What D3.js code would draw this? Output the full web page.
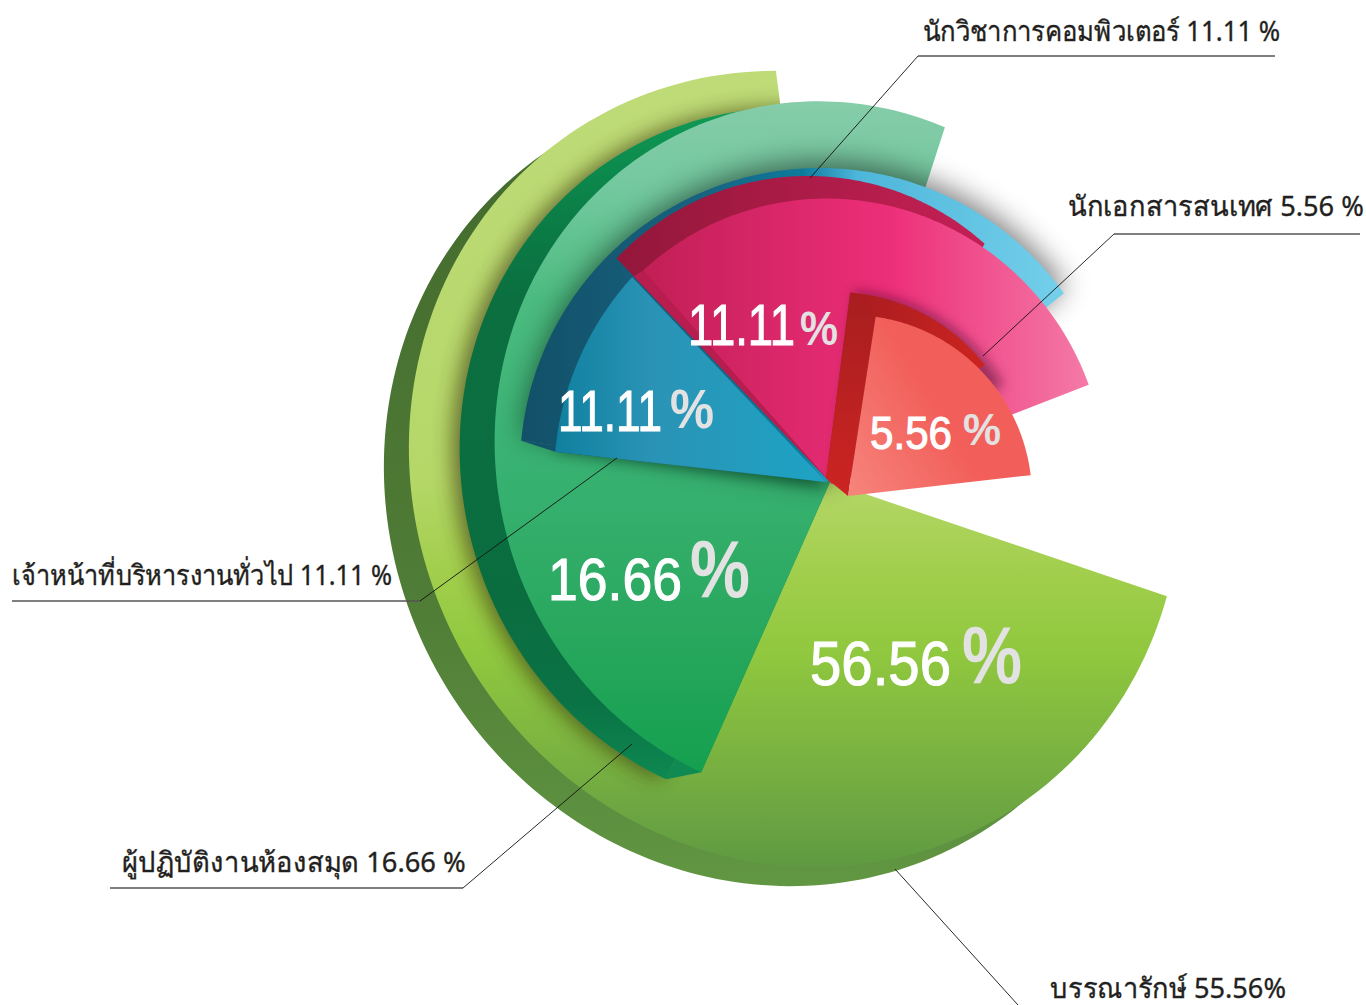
<!DOCTYPE html>
<html>
<head>
<meta charset="utf-8">
<script src="https://cdn.jsdelivr.net/npm/d3@7"></script>
<style>
  html, body { margin: 0; padding: 0; background: #fff; }
  svg { display: block; }
</style>
</head>
<body>
<div id="chart"></div>
<script>
// data
const categories = ["บรรณารักษ์", "ผู้ปฏิบัติงานห้องสมุด", "เจ้าหน้าที่บริหารงานทั่วไป", "นักวิชาการคอมพิวเตอร์", "นักเอกสารสนเทศ"];
const legendValues = [55.56, 16.66, 11.11, 11.11, 5.56];
const faceValues = [56.56, 16.66, 11.11, 11.11, 5.56];
// the slices are not drawn to scale in the original, these are the angles seen in it (0 = east, clockwise)
const startAngles = [18.9, 111.6, 185.2, 228, 278.1];
const endAngles = [267.25, 289.8, 222.3, 340.2, 353.1];

const W = 1366, H = 1005;
const rad = d3.scaleLinear().domain([0, 180]).range([0, Math.PI]);

const svg = d3.select("#chart").append("svg")
  .attr("width", W).attr("height", H).attr("viewBox", `0 0 ${W} ${H}`);
const defs = svg.append("defs");

function gradient(id, x1, y1, x2, y2, stops) {
  const g = defs.append("linearGradient").attr("id", id)
    .attr("gradientUnits", "userSpaceOnUse")
    .attr("x1", x1).attr("y1", y1).attr("x2", x2).attr("y2", y2);
  stops.forEach(s => g.append("stop").attr("offset", s[0]).attr("stop-color", s[1]));
  return `url(#${id})`;
}
function blur(id, sd) {
  defs.append("filter").attr("id", id)
    .attr("x", "-30%").attr("y", "-30%").attr("width", "160%").attr("height", "160%")
    .append("feGaussianBlur").attr("stdDeviation", sd);
  return `url(#${id})`;
}

// points on an ellipse, by polar angle around its centre
function arcPoints(e, a0, a1) {
  const n = 160;
  return d3.range(n + 1).map(i => {
    const a = rad(a0 + (a1 - a0) * i / n), t = a - rad(e.rot || 0);
    const r = 1 / Math.hypot(Math.cos(t) / e.rx, Math.sin(t) / e.ry);
    return [e.cx + r * Math.cos(a), e.cy + r * Math.sin(a)];
  });
}
const line = d3.line();
function wedge(e, a0, a1, apex) {
  return line([apex, ...arcPoints(e, a0, a1)]) + "Z";
}
function moved(e, dx, dy) {
  return Object.assign({}, e, { cx: e.cx + dx, cy: e.cy + dy });
}
function draw(d, fill, parent) {
  return (parent || svg).append("path").attr("d", d).attr("fill", fill);
}
const soft10 = blur("soft10", 10), soft6 = blur("soft6", 6), soft14 = blur("soft14", 14);

// --- light green slice
const lgFace = { cx: 795, cy: 469, rx: 404, ry: 380, rot: 60 };
const lgApex = [830, 482];
const lgD = wedge(lgFace, startAngles[0], endAngles[0], lgApex);
// rim runs past where it crosses the face, the face hides the rest
draw(wedge(moved(lgFace, -25, 19), 40, 250, lgApex),
  gradient("rimFill", 0, 150, 0, 885, [[0, "#446b2e"], [.6, "#4f7c36"], [1, "#619642"]]));
draw(lgD, gradient("lgFill", 0, 75, 0, 865, [[0, "#bedb78"], [.51, "#b5d768"], [.62, "#a3cf4e"], [.73, "#90c83f"], [.87, "#79b141"], [1, "#5f9a42"]]));
defs.append("clipPath").attr("id", "lgClip").append("path").attr("d", lgD);

// --- mid green slice
const mgFace = { cx: 828, cy: 452, rx: 332, ry: 352, rot: -15 };
const mgApex = [830, 482], mgBack = [795, 489];
const mgD = wedge(mgFace, startAngles[1], endAngles[1], mgApex);
const mgSide = moved(mgFace, -35, 7);
svg.append("g").attr("clip-path", "url(#lgClip)")
  .append("path").attr("d", wedge(moved(mgFace, -42, 7), startAngles[1], endAngles[1], mgBack))
  .attr("fill", "#3a3410").attr("opacity", .65).attr("filter", soft10);
draw(wedge(mgSide, startAngles[1], endAngles[1], mgBack),
  gradient("mgSideFill", 0, 110, 0, 785, [[0, "#0f9a55"], [.14, "#0b8048"], [.28, "#0b6f40"], [.73, "#0a6d40"], [.88, "#0a7345"], [1, "#0e8a52"]]));
const mgEndA = arcPoints(mgSide, startAngles[1], startAngles[1])[0], mgEndB = arcPoints(mgFace, startAngles[1], startAngles[1])[0];
draw(line([mgEndA, mgEndB, mgApex, mgBack]) + "Z", "#0e8a52");
draw(mgD, gradient("mgFill", 0, 105, 0, 775, [[0, "#85cca9"], [.13, "#72c89e"], [.29, "#4cbb80"], [.51, "#3ab374"], [.77, "#2aa85f"], [1, "#14a04f"]]));

// --- blue slice
const blBand = { cx: 820, cy: 468, rx: 300, ry: 300 };
const blFace = moved(blBand, 34, 11);
const blApex = [826, 482];
const blBandA0 = startAngles[2], blBandA1 = 324.4;
svg.append("path").attr("d", wedge(moved(blBand, 2, -6), blBandA0, blBandA1, blApex))
  .attr("fill", "#000").attr("opacity", .5).attr("filter", soft14);
svg.append("path").attr("d", wedge(blFace, startAngles[2], endAngles[2], [826, 488]))
  .attr("fill", "#06351f").attr("opacity", .45).attr("filter", soft6);
const blBandFill = gradient("blBandFill", 521, 0, 1062, 0, [[0, "#125068"], [.33, "#186280"], [.52, "#0d7a9c"], [.62, "#4db6da"], [1, "#74cfea"]]);
draw(wedge(blBand, blBandA0, blBandA1, blApex), blBandFill);
draw(line([arcPoints(blBand, blBandA0, blBandA0)[0], arcPoints(blFace, blBandA0, blBandA0)[0], blApex]) + "Z", blBandFill);
draw(wedge(blFace, startAngles[2], endAngles[2], blApex),
  gradient("blFill", 555, 0, 825, 0, [[0, "#10809f"], [.35, "#2a93b5"], [1, "#1ea3c4"]]));

// --- pink slice
const pkSide = { cx: 808, cy: 440, rx: 264, ry: 264 };
const pkFace = { cx: 830, cy: 478, rx: 275, ry: 280, rot: -20 };
const pkApex = [832, 484];
draw(wedge(pkSide, 223.5, 312, pkApex), gradient("pkSideFill", 616, 0, 985, 0, [[0, "#93173a"], [1, "#c42055"]]));
const pkTip = arcPoints(pkSide, 223.5, 223.5)[0];
const pkStripTop = d3.interpolate(pkTip, pkApex)(.08);
const pkFaceTip = arcPoints(pkFace, startAngles[3], startAngles[3])[0];
draw(line([pkStripTop, pkFaceTip, pkApex]) + "Z", "#b81d4f");
draw(wedge(pkFace, startAngles[3], endAngles[3], pkApex),
  gradient("pkFill", 645, 0, 1088, 0, [[0, "#c21f56"], [.55, "#ed2e79"], [1, "#f47aa6"]]));

// --- red slice
const rdSide = { cx: 835, cy: 482, rx: 190, ry: 190 };
const rdFace = { cx: 850, cy: 497, rx: 182, ry: 182 };
const rdApex = [848, 496], rdBack = [826, 478];
svg.append("path").attr("d", wedge(moved(rdSide, 4, -2), 274.6, 330, [834, 478]))
  .attr("fill", "#4a0b2e").attr("opacity", .5).attr("filter", soft6);
draw(wedge(rdSide, 274.6, 322, rdBack), gradient("rdSideFill", 850, 0, 985, 0, [[0, "#a81c20"], [1, "#cc2420"]]));
const rdTipS = arcPoints(rdSide, 274.6, 274.6)[0], rdTipF = arcPoints(rdFace, startAngles[4], startAngles[4])[0];
draw(line([rdTipS, rdTipF, rdApex, rdBack]) + "Z", gradient("rdStrip", 0, 295, 0, 490, [[0, "#a81e20"], [1, "#cb2422"]]));
draw(wedge(rdFace, startAngles[4], endAngles[4], rdApex),
  gradient("rdFill", 850, 490, 950, 430, [[0, "#f6837b"], [1, "#f25f5a"]]));

// fits a text to a width by squeezing it, so its box stays honest
function fitText(parent, str, x, y, w, attrs) {
  const t = parent.append("text").attr("font-size", attrs.fs).attr("fill", attrs.fill).text(str);
  if (attrs.bold) t.attr("font-weight", "bold");
  if (attrs.stroke) t.attr("stroke", attrs.fill).attr("stroke-width", attrs.stroke);
  const natural = t.node().getComputedTextLength();
  t.attr("transform", `translate(${x},${y}) scale(${w / natural},1)`);
  return t;
}

// --- numbers on the slices
const numPos = [
  { x: 810, y: 685, w: 141, fs: 63, px: 962, py: 683, pw: 60, pfs: 82 },
  { x: 548, y: 600, w: 134, fs: 60, px: 690, py: 597, pw: 60, pfs: 82 },
  { x: 558, y: 431, w: 104, fs: 58, px: 670, py: 428, pw: 44, pfs: 56 },
  { x: 688, y: 345, w: 107, fs: 58, px: 800, py: 345, pw: 38, pfs: 48 },
  { x: 870, y: 449, w: 82, fs: 46, px: 963, py: 445, pw: 38, pfs: 44 }
];
const numbers = svg.append("g").attr("font-family", "'Liberation Sans', sans-serif");
numPos.forEach((p, i) => {
  fitText(numbers, faceValues[i], p.x, p.y, p.w, { fs: p.fs, fill: "#fff", stroke: 1.1 });
  fitText(numbers, "%", p.px, p.py, p.pw, { fs: p.pfs, fill: "#e2e2e2", bold: true });
});

// --- leaders and captions
const leaders = [
  { pts: [[895, 869], [1018, 1005]], flat: null, x: 1050, y: 998, w: 235, gap: "" },
  { pts: [[632, 744], [463, 888]], flat: 110, x: 122, y: 872, w: 341, gap: " " },
  { pts: [[617, 458], [420, 601]], flat: 12, x: 12, y: 585, w: 380, gap: " " },
  { pts: [[810, 178], [918, 56]], flat: 1275, x: 923, y: 41, w: 361, gap: " " },
  { pts: [[983, 356], [1114, 234]], flat: 1360, x: 1068, y: 216, w: 295, gap: " " }
];
const capt = svg.append("g").attr("font-family", "'Noto Sans', 'Liberation Sans', sans-serif");
leaders.forEach((l, i) => {
  capt.append("path").attr("d", line(l.pts)).attr("fill", "none").attr("stroke", "#111").attr("stroke-width", .9);
  if (l.flat !== null) {
    const e = l.pts[1];
    capt.append("path").attr("d", line([e, [l.flat, e[1]]])).attr("fill", "none").attr("stroke", "#555").attr("stroke-width", 1.3);
  }
  fitText(capt, `${categories[i]} ${legendValues[i]}${l.gap}%`, l.x, l.y, l.w, { fs: 28, fill: "#231f20", stroke: .35 });
});
</script>
</body>
</html>
